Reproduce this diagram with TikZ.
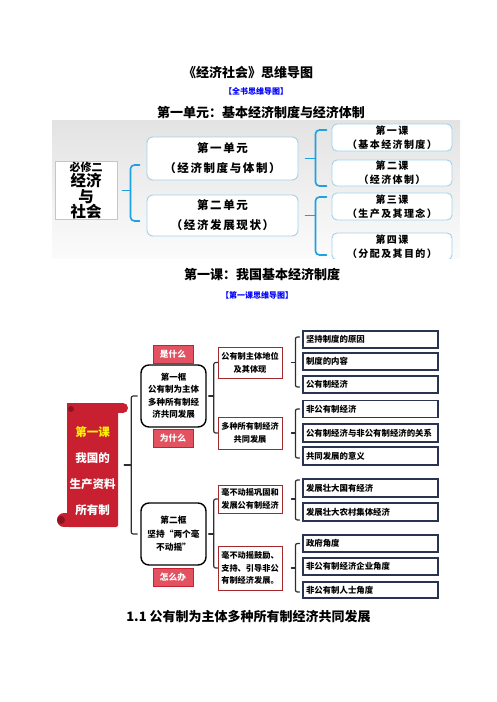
\documentclass[tikz,border=0pt]{standalone}
\usepackage{fontspec}
\setmainfont{Noto Sans CJK SC}
\newfontfamily\spaced{Noto Sans CJK SC}[LetterSpace=14]
\usepackage{tikz}
\usepackage{xcolor}

\definecolor{skyline}{RGB}{30,160,225}
\definecolor{skybox}{RGB}{160,210,238}
\definecolor{lesred}{RGB}{200,32,48}
\definecolor{lesdark}{RGB}{140,20,32}
\definecolor{tagred}{RGB}{226,82,96}
\definecolor{boxred}{RGB}{165,40,45}
\definecolor{navy}{RGB}{40,52,80}
\definecolor{brgray}{RGB}{45,45,55}

\begin{document}
\begin{tikzpicture}[x=1pt,y=-1pt,line cap=round,
  head/.style={font=\fontsize{13}{15}\selectfont\bfseries},
  sub/.style={font=\fontsize{8}{9}\selectfont\bfseries,text=blue},
  unitbox/.style={draw=skybox,fill=white,rounded corners=6,line width=0.9pt,minimum width=151,align=center,inner sep=0pt,
    font=\spaced\fontsize{11.5}{20}\selectfont\bfseries},
  lessonbox/.style={draw=skybox,fill=white,rounded corners=5,line width=0.9pt,minimum width=120,minimum height=27,align=center,inner sep=0pt,
    font=\spaced\fontsize{10}{14}\selectfont\bfseries},
  bbr/.style={draw=skyline,line width=1.6pt},
  frame/.style={draw=black,line width=1.4pt,rounded corners=8,minimum width=65,minimum height=62,align=center,inner sep=0pt,
    font=\fontsize{8.5}{12.5}\selectfont\bfseries},
  tag/.style={fill=tagred,draw=lesred,line width=0.5pt,minimum width=40,minimum height=18,inner sep=0pt,text=white,
    font=\fontsize{8.7}{10}\selectfont\bfseries},
  point/.style={draw=boxred,line width=0.8pt,fill=white,minimum width=64,align=center,inner sep=0pt,
    font=\fontsize{8.2}{13}\selectfont\bfseries},
  item/.style={draw=navy,line width=1.1pt,fill=white,minimum width=135,minimum height=17,inner xsep=3pt,inner ysep=0pt,
    text width=129,align=left,font=\fontsize{8.4}{10}\selectfont\bfseries},
  dbr/.style={draw=brgray,line width=1.2pt,rounded corners=2}]
\useasboundingbox (0,0) rectangle (496,702);

% headings
\node[head] (t0) at (248,73) {《经济社会》思维导图};
\node[sub] (s0) at (256,91) {【全书思维导图】};
\node[head] (t1) at (261,112) {第一单元：基本经济制度与经济体制};

% unit overview
\begin{scope}
\clip (52,120) rectangle (460,258);
\shade[top color=gray!22,bottom color=gray!3] (52,120) rectangle (460,258);
\node[draw=skybox,fill=white,line width=0.9pt,minimum width=62,minimum height=51,inner sep=0pt,align=center,
  font=\fontsize{15.5}{12}\selectfont\bfseries] (bx) at (86,190.5)
  {{\fontsize{11}{12}\selectfont 必修二}\\经济\\与\\社会};
\node[unitbox,minimum height=43] (u1) at (222.5,158.5) {第一单元\\（经济制度与体制）};
\node[unitbox,minimum height=41] (u2) at (222.5,215.5) {第二单元\\（经济发展现状）};
\node[lessonbox] (l1) at (392,137.5) {第一课\\（基本经济制度）};
\node[lessonbox,minimum height=26] (l2) at (392,173) {第二课\\（经济体制）};
\node[lessonbox] (l3) at (392,206.5) {第三课\\（生产及其理念）};
\node[lessonbox] (l4) at (392,246.5) {第四课\\（分配及其目的）};
\draw[bbr] ([xshift=5]bx.east) -- ++(8,0);
\draw[bbr,rounded corners=4] ([xshift=-7,yshift=-6.5]u1.west) -| ([xshift=13]bx.east) |- ([xshift=-7,yshift=-5.5]u2.west);
\draw[bbr] ([xshift=7]u1.east) -- ++(10,0);
\draw[bbr,rounded corners=4] ([xshift=-5,yshift=7.5]l1.west) -| ([xshift=17]u1.east) |- ([xshift=-5,yshift=-13]l2.west);
\draw[bbr] ([xshift=7]u2.east) -- ++(10,0);
\draw[bbr,rounded corners=4] ([xshift=-5,yshift=9.5]l3.west) -| ([xshift=17]u2.east) |- ([xshift=-5,yshift=-8.5]l4.west);
\end{scope}

\node[head] (t2) at (262,275) {第一课：我国基本经济制度};
\node[sub] (s1) at (257,295) {【第一课思维导图】};

% lesson one map
\fill[lesred] (67,403) rectangle (123,413);
\fill[lesred] (123,408) circle (5pt);
\fill[lesred] (64,513) rectangle (110,527);
\fill[lesred] (64,520) circle (7pt);
\node[fill=lesred,rounded corners=2,minimum width=51,minimum height=124,inner sep=0pt] (les) at (92.5,465) {};
\fill[lesdark] (71,409) circle (3pt);
\fill[lesdark] (61,520) circle (4pt);
\node[align=center,text=white,font=\fontsize{11.5}{26}\selectfont\bfseries] (lest) at (92.5,471)
  {\textcolor{yellow}{第一课}\\我国的\\生产资料\\所有制};

\node[frame] (f1) at (173.5,396) {第一框\\公有制为主体\\多种所有制经\\济共同发展};
\node[frame,font=\fontsize{8.7}{13.5}\selectfont\bfseries] (f2) at (173.5,534) {第二框\\坚持“两个毫\\不动摇”};
\node[tag] (g1) at (173,354) {是什么};
\node[tag] (g2) at (173,438) {为什么};
\node[tag] (g3) at (173,577) {怎么办};

\node[point,minimum height=31] (c1) at (250,362.5) {公有制主体地位\\及其体现};
\node[point,minimum height=32] (c2) at (250,433) {多种所有制经济\\共同发展};
\node[point,minimum height=28] (c3) at (250,499) {毫不动摇巩固和\\发展公有制经济};
\node[point,minimum height=44,font=\fontsize{8.2}{12.5}\selectfont\bfseries] (c4) at (250,568) {毫不动摇鼓励、\\支持、引导非公\\有制经济发展。};

\node[item] (i1) at (370.5,339.5) {坚持制度的原因};
\node[item] (i2) at (370.5,361.5) {制度的内容};
\node[item] (i3) at (370.5,384.5) {公有制经济};
\node[item] (i4) at (370.5,409) {非公有制经济};
\node[item,minimum height=18] (i5) at (370.5,433) {公有制经济与非公有制经济的关系};
\node[item,minimum height=18] (i6) at (370.5,456) {共同发展的意义};
\node[item,minimum height=18] (i7) at (370.5,488) {发展壮大国有经济};
\node[item,minimum height=18] (i8) at (370.5,512) {发展壮大农村集体经济};
\node[item] (i9) at (370.5,543.5) {政府角度};
\node[item] (i10) at (370.5,566.5) {非公有制经济企业角度};
\node[item,minimum height=16] (i11) at (370.5,590) {非公有制人士角度};

% brackets
\draw[dbr] ([xshift=6]les.east) -- ++(7,0);
\draw[dbr] ([xshift=-3]f1.west) -| ([xshift=13]les.east) |- ([xshift=-3]f2.west);
\draw[dbr] ([xshift=2]f1.east) -- ++(5,0);
\draw[dbr] (c1.west) -| ([xshift=7]f1.east) |- (c2.west);
\draw[dbr] ([xshift=2]f2.east) -- ++(5,0);
\draw[dbr] (c3.west) -| ([xshift=7]f2.east) |- (c4.west);
\draw[dbr] ([xshift=9]c1.east) -- ++(4,0);
\draw[dbr] ([xshift=-3,yshift=2.5]i1.west) -| ([xshift=13]c1.east) |- ([xshift=-3,yshift=-2.5]i3.west);
\draw[dbr] ([xshift=9]c2.east) -- ++(4,0);
\draw[dbr] ([xshift=-3]i4.west) -| ([xshift=13]c2.east) |- ([xshift=-3,yshift=-2]i6.west);
\draw[dbr] ([xshift=9]c3.east) -- ++(4,0);
\draw[dbr] ([xshift=-3,yshift=8]i7.west) -| ([xshift=13]c3.east) |- ([xshift=-3,yshift=-8]i8.west);
\draw[dbr] ([xshift=9]c4.east) -- ++(4,0);
\draw[dbr] ([xshift=-3]i9.west) -| ([xshift=13]c4.east) |- ([xshift=-3,yshift=-2]i11.west);

\node[head] (t3) at (248.5,617) {1.1 公有制为主体多种所有制经济共同发展};
\end{tikzpicture}
\end{document}
